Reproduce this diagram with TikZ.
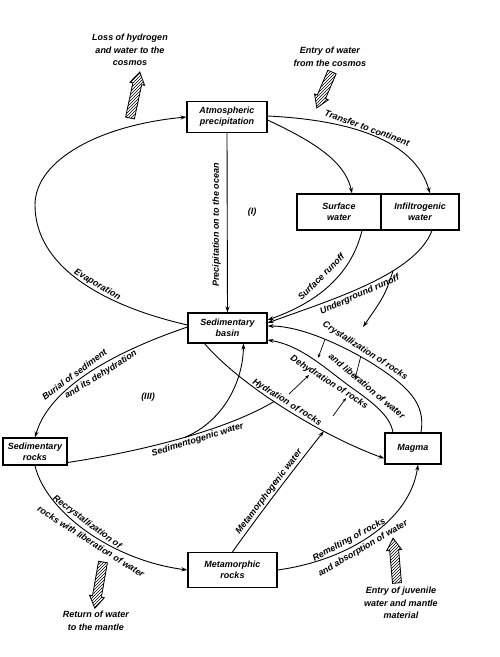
\documentclass[tikz,border=0pt]{standalone}
\usepackage{fontspec}
\setmainfont{Liberation Sans}
\usetikzlibrary{arrows.meta,patterns,calc}
\begin{document}
\begin{tikzpicture}[x=1pt,y=-1pt,
  txt/.style={font=\fontsize{9}{11}\selectfont\bfseries\itshape},
  lab/.style={txt, inner sep=0.5pt, align=center},
  outlab/.style={font=\fontsize{9}{12.5}\selectfont\bfseries\itshape, inner sep=0pt, align=center},
  box/.style={txt, draw, line width=1.1pt, inner sep=0pt, align=center},
  flow/.style={line width=0.9pt, -{Stealth[length=6pt,width=4pt]}},
  plain/.style={line width=0.9pt},
  tick/.style={line width=0.7pt, -{Stealth[length=4pt,width=3pt]}},
  hatchfill/.style={draw, line width=0.8pt, pattern=north east lines},
  pics/hatcharrow/.style={code={
    \draw[hatchfill] (-4.5,0) -- (-4.5,-#1+12) -- (-7.5,-#1+12) -- (0,-#1) -- (7.5,-#1+12) -- (4.5,-#1+12) -- (4.5,0) -- cycle;
  }}
]
\useasboundingbox (0,0) rectangle (499,657);

% boxes
\node[box, minimum width=80, minimum height=31] (atm) at (227,117) {Atmospheric\\precipitation};
\node[box, minimum width=84, minimum height=36] (surf) at (339,212) {Surface\\water};
\node[box, minimum width=78, minimum height=36] (infil) at (420,212) {Infiltrogenic\\water};
\node[box, minimum width=79, minimum height=30] (basin) at (227.5,328) {Sedimentary\\basin};
\node[box, minimum width=64, minimum height=27] (sedr) at (35,451.5) {Sedimentary\\rocks};
\node[box, minimum width=56, minimum height=31] (magma) at (413,448.5) {Magma};
\node[box, minimum width=89, minimum height=35] (meta) at (232.5,570) {Metamorphic\\rocks};

% region labels
\node[lab] (r1) at (252,212) {(I)};
\node[lab] (r3) at (148,397) {(III)};

% evaporation
\draw[flow] ($(basin.west)+(0,-3)$) .. controls (100,305) and (35,265) .. (35,205)
  node[lab, pos=0.41, sloped, above=1pt] {Evaporation}
  .. controls (35,160) and (100,125) .. (atm.west);

% precipitation on to the ocean
\draw[flow] (atm.south) -- (basin.north);
\node[lab, rotate=90] (plab) at (216.5,225) {Precipitation on to the ocean};

% transfer to continent
\draw[flow] ($(atm.east)+(0,-1)$) .. controls (350,120) and (415,140) .. ($(infil.north)+(10,0)$)
  node[lab, pos=0.45, sloped, above=1pt] {Transfer to continent};
\draw[flow] ($(atm.east)+(0,3)$) .. controls (310,140) and (345,160) .. ($(surf.north)+(13,0)$);

% runoff
\draw[flow] ($(surf.south)+(23,0)$) .. controls (350,280) and (310,305) .. ($(basin.east)+(0,-8)$);
\node[lab, rotate=45] (srlab) at (321,277) {Surface runoff};
\draw[flow] ($(infil.south)+(12,0)$) .. controls (415,275) and (330,300) .. ($(basin.east)+(0,-5)$)
  coordinate[pos=0.35] (ubr)
  node[lab, pos=0.55, sloped, below=1pt] {Underground runoff};
\coordinate (uend) at (363,327);
\draw[flow] (ubr) .. controls (385,295) .. (uend);

% crystallization (outer) / dehydration (inner)
\draw[flow] ($(magma.north)+(8,0)$) .. controls (426,403) and (408,386) .. (370,362)
  .. controls (340,344) and (300,326) .. ($(basin.east)+(0,-2)$)
  coordinate[pos=0.45] (o1) coordinate[pos=0.1] (o2);
\draw[flow] ($(magma.north)+(-20,0)$) .. controls (390,415) and (372,402) .. (348,385)
  .. controls (325,368) and (300,345) .. ($(basin.east)+(0,12)$);
\node[lab, rotate=-33] (crlab) at (365,351) {Crystallization of rocks};
\node[lab, rotate=-40] (lilab) at (367,386) {and liberation of water};
\node[lab, rotate=-33] (delab) at (329,382.5) {Dehydration of rocks};
\coordinate (i1) at (318,358); \coordinate (i2) at (355,379);
\draw[tick] (o1) -- (i1);
\draw[tick] (o2) -- (i2);

% hydration
\draw[flow] ($(basin.south)+(-23,0)$) .. controls (240,385) and (320,435) .. ($(magma.west)+(0,10)$)
  node[lab, pos=0.5, sloped, above=1pt] {Hydration of rocks}
  coordinate[pos=0.45] (hyd) coordinate[pos=0.7] (hyd2);
\coordinate (h1) at (289,394); \coordinate (d1) at (309,375);
\coordinate (h2) at (333,416); \coordinate (d2) at (346,398);
\draw[tick] (h1) -- (d1);
\draw[tick] (h2) -- (d2);

% sedimentogenic water
\draw[plain] ($(sedr.east)+(0,11)$) .. controls (150,450) and (230,428) .. (hyd)
  coordinate[pos=0.5] (sbr)
  node[lab, pos=0.55, sloped, below=1pt] {Sedimentogenic water};
\draw[flow] (sbr) .. controls (225,420) and (243,380) .. ($(basin.south)+(16,0)$);

% metamorphogenic water
\draw[flow] (meta.north) .. controls (262,510) and (305,455) .. (hyd2)
  node[lab, pos=0.42, sloped, above=1pt] {Metamorphogenic water};

% burial
\draw[flow] ($(basin.west)+(0,-1)$) .. controls (120,350) and (50,385) .. (sedr.north)
  node[lab, pos=0.58, sloped, above=3pt] {Burial of sediment}
  node[lab, pos=0.47, sloped, below=3pt] {and its dehydration};

% recrystallization
\draw[flow] (sedr.south) .. controls (45,510) and (110,560) .. (meta.west)
  node[lab, pos=0.48, sloped, above=2pt] {Recrystallization of}
  node[lab, pos=0.55, sloped, below=2pt] {rocks with liberation of water};

% remelting
\draw[flow] (meta.east) .. controls (350,560) and (410,520) .. ($(magma.south)+(5,0)$)
  node[lab, pos=0.38, sloped, above=2pt] {Remelting of rocks}
  node[lab, pos=0.42, sloped, below=2pt] {and absorption of water};

% hatched arrows and their labels
\pic[rotate=-12] at (130,118) {hatcharrow=47};
\pic[rotate=157] at (332,72) {hatcharrow=39};
\pic[rotate=170] at (103,562) {hatcharrow=47};
\pic[rotate=5] at (397,583) {hatcharrow=45};
\node[outlab] (loss) at (130,50) {Loss of hydrogen\\and water to the\\cosmos};
\node[outlab] (entry) at (330,57) {Entry of water\\from the cosmos};
\node[outlab] (ret) at (96,621) {Return of water\\to the mantle};
\node[outlab] (juv) at (401,603) {Entry of juvenile\\water and mantle\\material};
\end{tikzpicture}
\end{document}
